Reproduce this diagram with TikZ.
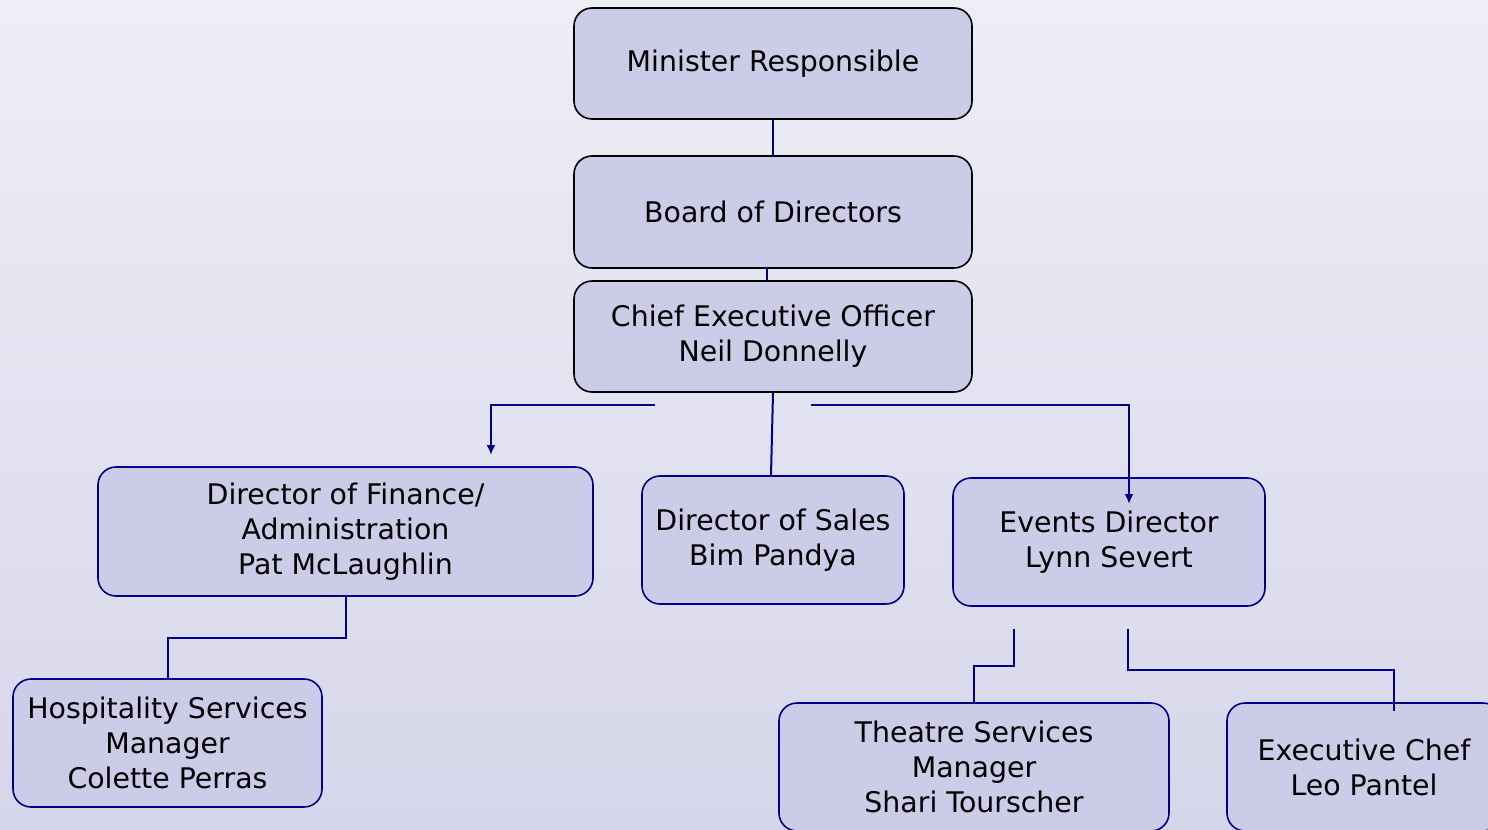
\documentclass[tikz,border=0pt]{standalone}
\usepackage{fontspec}
\setmainfont{DejaVu Sans}
\usetikzlibrary{arrows.meta}
\definecolor{bgtop}{RGB}{238,238,247}
\definecolor{bgbot}{RGB}{214,214,234}
\definecolor{boxfill}{RGB}{204,204,232}
\definecolor{navy}{RGB}{0,0,140}
\begin{document}
\begin{tikzpicture}[x=1bp,y=-1bp,
  box/.style={draw, rounded corners=18bp, fill=boxfill, line width=1.6bp, align=center,
    font=\fontsize{28.5}{35}\selectfont, inner sep=0pt},
  topbox/.style={box, draw=black},
  lowbox/.style={box, draw=navy},
  conn/.style={draw=navy, line width=2bp},
  arr/.style={conn, -{Latex[length=10bp,width=9bp]}}]
\useasboundingbox (0,0) rectangle (1488,829);
\clip (0,0) rectangle (1488,829);
\shade[top color=bgtop, bottom color=bgbot] (0,0) rectangle (1488,829);

\node[topbox, minimum width=398bp, minimum height=111bp] (min) at (773,63.5) {Minister Responsible};
\node[topbox, minimum width=398bp, minimum height=112bp] (board) at (773,212) {Board of Directors};
\node[topbox, minimum width=398bp, minimum height=111bp] (ceo) at (773,336.5) {Chief Executive Officer\\Neil Donnelly};
\node[lowbox, minimum width=495bp, minimum height=129bp] (fin) at (345.5,531.5) {Director of Finance/\\Administration\\Pat McLaughlin};
\node[lowbox, minimum width=262bp, minimum height=128bp] (sales) at (773,540) {Director of Sales\\Bim Pandya};
\node[lowbox, minimum width=312bp, minimum height=128bp] (events) at (1109,542) {Events Director\\Lynn Severt};
\node[lowbox, minimum width=309bp, minimum height=128bp] (hosp) at (167.5,743) {Hospitality Services\\Manager\\Colette Perras};
\node[lowbox, minimum width=390bp, minimum height=128bp] (theatre) at (974,767) {Theatre Services\\Manager\\Shari Tourscher};
\node[lowbox, minimum width=274bp, minimum height=128bp] (chef) at (1364,767) {Executive Chef\\Leo Pantel};

\coordinate (f1) at (655,405);
\coordinate (f2) at (491,455);
\coordinate (e1) at (811,405);
\coordinate (e2) at (1129,504);
\coordinate (t1) at (1014,629);
\coordinate (c1) at (1128,629);
\coordinate (c2) at (1394,711);

\draw[conn] (min.south) -- (board.north);
\draw[conn] ([xshift=-6bp]board.south) -- ([xshift=-6bp]ceo.north);
\draw[arr] (f1) -| (f2);
\draw[conn] (ceo.south) -- ([xshift=-2bp]sales.north);
\draw[arr] (e1) -| (e2);
\draw[conn] (fin.south) -- ++(0,41) -| (hosp.north);
\draw[conn] (t1) -- ++(0,37) -| (theatre.north);
\draw[conn] (c1) -- ++(0,41) -| (c2);
\end{tikzpicture}
\end{document}
